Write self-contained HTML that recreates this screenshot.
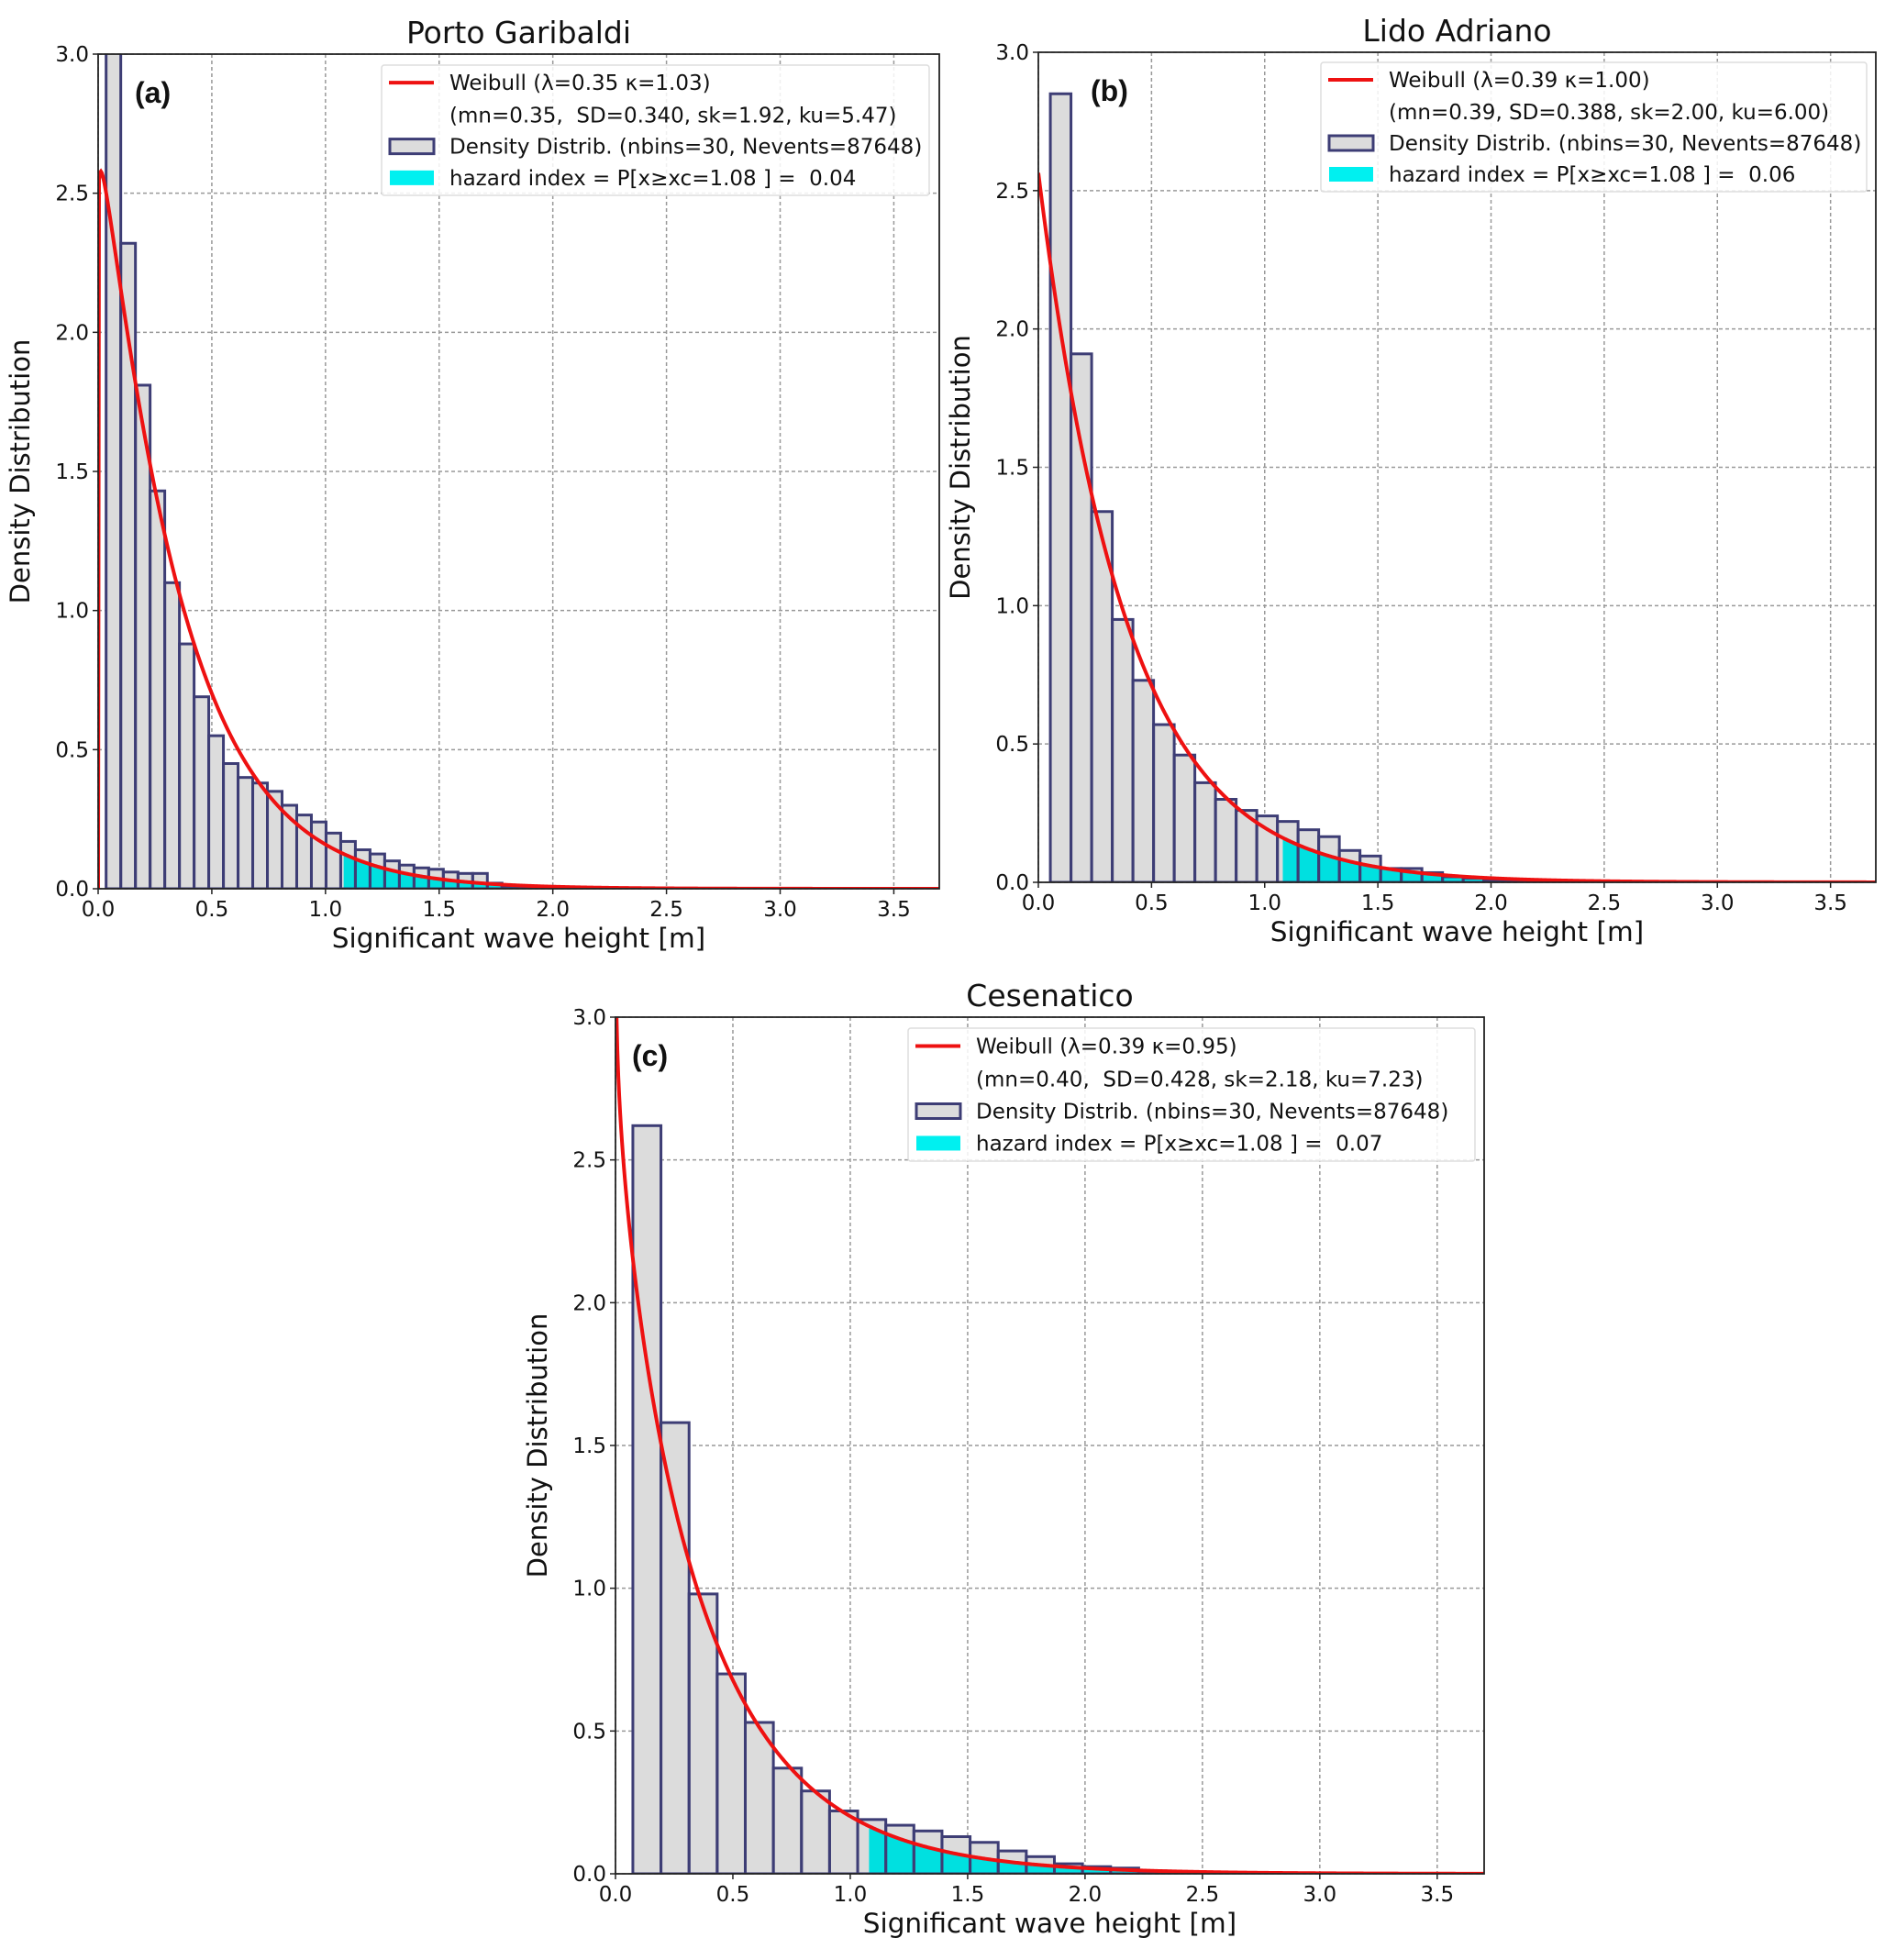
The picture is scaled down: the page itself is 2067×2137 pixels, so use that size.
<!DOCTYPE html>
<html><head><meta charset="utf-8"><style>
body{margin:0;background:#fff;}
svg{display:block;font-family:"DejaVu Sans","Liberation Sans",sans-serif;}
</style></head><body>
<svg id="fig" width="2067" height="2137" viewBox="0 0 2067 2137" xmlns="http://www.w3.org/2000/svg"></svg>
<script>
const xTicks=[0,0.5,1.0,1.5,2.0,2.5,3.0,3.5];
const yTicks=[0,0.5,1.0,1.5,2.0,2.5,3.0];
const titles=["Porto Garibaldi","Lido Adriano","Cesenatico"];
const tags=["(a)","(b)","(c)"];
const lambdas=[0.35,0.39,0.39];
const kappas=[1.03,1.00,0.95];
const binStarts=[0.035,0.053,0.074];
const binWidths=[0.0645,0.0912,0.1197];
const heightsA=[3.3,2.32,1.81,1.43,1.10,0.88,0.69,0.55,0.45,0.40,0.38,0.35,0.30,0.265,0.24,0.20,0.17,0.14,0.125,0.10,0.085,0.075,0.07,0.06,0.055,0.055,0.02,0.01,0.005,0.003];
const heightsB=[2.85,1.91,1.34,0.95,0.73,0.57,0.46,0.36,0.30,0.26,0.24,0.22,0.19,0.165,0.115,0.095,0.05,0.05,0.035,0.02,0.015,0.01,0.01,0.008,0.005,0.005,0.004,0.003,0.002,0.001];
const heightsC=[2.62,1.58,0.98,0.70,0.53,0.37,0.29,0.22,0.19,0.17,0.15,0.13,0.11,0.08,0.06,0.035,0.025,0.02,0.01,0.008,0.005,0.004,0.003,0.002,0.002,0.001,0.001,0.001,0.001,0.001];
const legendL1=["Weibull (λ=0.35 κ=1.03)","Weibull (λ=0.39 κ=1.00)","Weibull (λ=0.39 κ=0.95)"];
const legendL2=["(mn=0.35,  SD=0.340, sk=1.92, ku=5.47)","(mn=0.39, SD=0.388, sk=2.00, ku=6.00)","(mn=0.40,  SD=0.428, sk=2.18, ku=7.23)"];
const legendL3="Density Distrib. (nbins=30, Nevents=87648)";
const hazardVals=["0.04","0.06","0.07"];
const xc=1.08;
const xMax=3.7, yMax=3.0;

const panels=[
 {L:107,R:1024,T:59,B:969,heights:heightsA,leg:[416,71,597,142],tagX:40},
 {L:1132,R:2045,T:57,B:962,heights:heightsB,leg:[1440,68,595,141],tagX:57},
 {L:671,R:1618,T:1109,B:2043,heights:heightsC,leg:[990,1121,618,145],tagX:18}
];
const NS="http://www.w3.org/2000/svg";
const svg=document.getElementById('fig');
function mk(tag,attrs,parent){const e=document.createElementNS(NS,tag);for(const k in attrs)e.setAttribute(k,attrs[k]);(parent||svg).appendChild(e);return e;}
function pdf(x,l,k){if(x<=0)return k>1?0:(k===1?1/l:99);return k/l*Math.pow(x/l,k-1)*Math.exp(-Math.pow(x/l,k));}

panels.forEach((p,pi)=>{
 const g=mk('g',{});
 
 
 const sx=v=>p.L+(v/xMax)*(p.R-p.L);
 const sy=v=>p.B-(v/yMax)*(p.B-p.T);
 const clipId='clip'+pi;
 const cp=mk('clipPath',{id:clipId},g);mk('rect',{x:p.L,y:p.T,width:p.R-p.L,height:p.B-p.T},cp);
 xTicks.forEach(t=>{const l=mk('line',{x1:sx(t),x2:sx(t),y1:p.T,y2:p.B,stroke:'#999','stroke-width':1.5,'stroke-dasharray':'4,3'},g);
  });
 yTicks.forEach(t=>{const l=mk('line',{x1:p.L,x2:p.R,y1:sy(t),y2:sy(t),stroke:'#999','stroke-width':1.5,'stroke-dasharray':'4,3'},g);
  });
 const pg=mk('g',{'clip-path':'url(#'+clipId+')'},g);
 const s0=binStarts[pi],w=binWidths[pi];
 p.heights.forEach((h,i)=>{const x0=sx(s0+i*w),x1=sx(s0+(i+1)*w);
  const r=mk('rect',{x:x0,y:sy(h),width:x1-x0,height:p.B-sy(h),fill:'#dcdcdc'},pg);
  });
 const xEnd=s0+p.heights.filter(h=>h>0.004).length*w;
 let d='M'+sx(xc)+','+p.B;
 for(let x=xc;x<=xEnd;x+=0.01)d+=' L'+sx(x).toFixed(2)+','+sy(pdf(x,lambdas[pi],kappas[pi])).toFixed(2);
 d+=' L'+sx(xEnd)+','+p.B+' Z';
 const hz=mk('path',{d:d,fill:'#00e0e0'},pg);
 
 p.heights.forEach((h,i)=>{const x0=sx(s0+i*w),x1=sx(s0+(i+1)*w);
  const r=mk('rect',{x:x0,y:sy(h),width:x1-x0,height:p.B-sy(h),fill:'none',stroke:'#3d3d75','stroke-width':3},pg);
  });
 let pd='';
 for(let x=0;x<=xMax+0.001;x+=0.004){const y=Math.min(pdf(x,lambdas[pi],kappas[pi]),3.2);pd+=(pd?' L':'M')+sx(x).toFixed(2)+','+sy(y).toFixed(2);}
 const wl=mk('path',{d:pd,fill:'none',stroke:'#ee1111','stroke-width':4},pg);
 
 const fr=mk('rect',{x:p.L,y:p.T,width:p.R-p.L,height:p.B-p.T,fill:'none',stroke:'#222','stroke-width':1.8},g);
 
 xTicks.forEach(t=>{mk('line',{x1:sx(t),x2:sx(t),y1:p.B,y2:p.B+6,stroke:'#222','stroke-width':1.5},g);
  const tx=mk('text',{x:sx(t),y:p.B+30,'font-size':23,'text-anchor':'middle',fill:'#111'},g);tx.textContent=t.toFixed(1);
  });
 yTicks.forEach(t=>{mk('line',{x1:p.L-6,x2:p.L,y1:sy(t),y2:sy(t),stroke:'#222','stroke-width':1.5},g);
  const tx=mk('text',{x:p.L-10,y:sy(t)+8,'font-size':23,'text-anchor':'end',fill:'#111'},g);tx.textContent=t.toFixed(1);
  });
 const ti=mk('text',{x:(p.L+p.R)/2,y:p.T-12,'font-size':33,'text-anchor':'middle',fill:'#111'},g);ti.textContent=titles[pi];
 
 const xl=mk('text',{x:(p.L+p.R)/2,y:p.B+64,'font-size':29.5,'text-anchor':'middle',fill:'#111'},g);xl.textContent='Significant wave height [m]';
 
 const yx=p.L-75,yy=(p.T+p.B)/2;
 const yl=mk('text',{x:yx,y:yy,'font-size':29,'text-anchor':'middle',fill:'#111',transform:`rotate(-90 ${yx} ${yy})`},g);yl.textContent='Density Distribution';
 
 const tg=mk('text',{x:p.L+p.tagX,y:p.T+53,'font-size':32,'font-weight':'bold','font-family':'"Liberation Sans",sans-serif',fill:'#111'},g);tg.textContent=tags[pi];
 
 const [lx,ly,lw,lh]=p.leg;
 const lg=mk('g',{},g);
 mk('rect',{x:lx,y:ly,width:lw,height:lh,fill:'rgba(255,255,255,0.85)',stroke:'#ddd','stroke-width':1.5,rx:3},lg);
 const sc=lh/141;
 const rows=[ly+19*sc,ly+54*sc,ly+88*sc,ly+122*sc];
 mk('line',{x1:lx+8,x2:lx+57,y1:rows[0],y2:rows[0],stroke:'#ee1111','stroke-width':4},lg);
 mk('rect',{x:lx+9,y:rows[2]-8,width:48,height:16,fill:'#dcdcdc',stroke:'#3d3d75','stroke-width':3},lg);
 mk('rect',{x:lx+9,y:rows[3]-8,width:48,height:16,fill:'#00f0f0'},lg);
 const texts=[legendL1[pi],legendL2[pi],legendL3,'hazard index = P[x≥xc=1.08 ] =  '+hazardVals[pi]];
 texts.forEach((s,i)=>{const t=mk('text',{x:lx+74,y:rows[i]+8,'font-size':23,fill:'#111',style:'white-space:pre'},lg);t.textContent=s;
  });
});
</script>
</body></html>
